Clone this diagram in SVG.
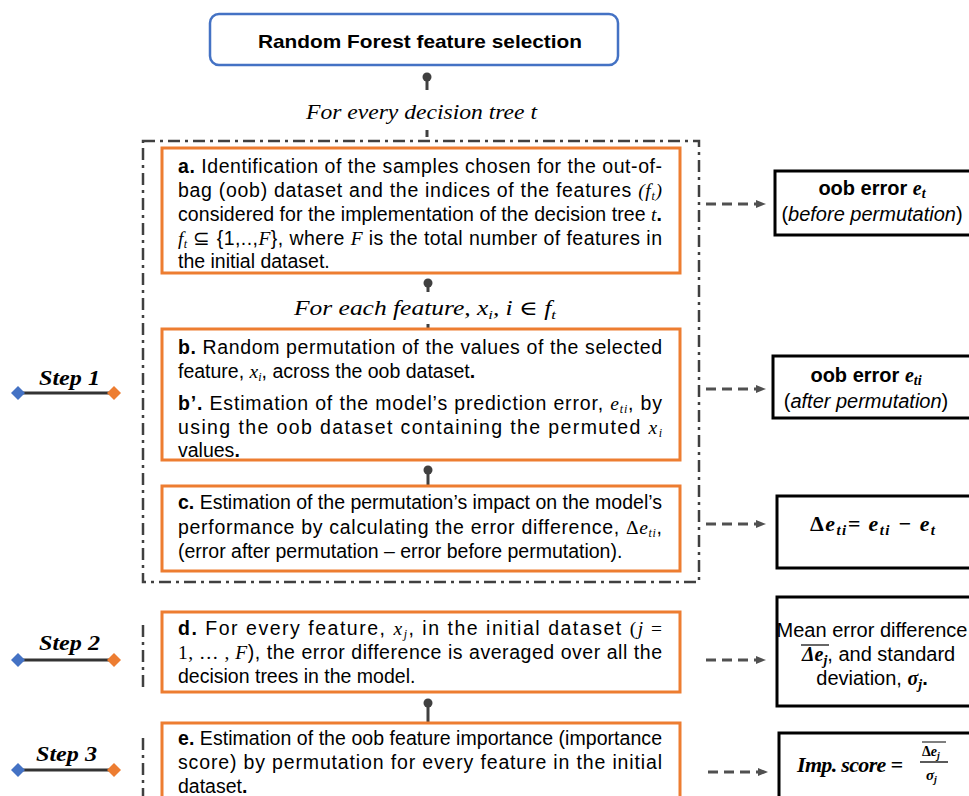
<svg xmlns="http://www.w3.org/2000/svg" width="969" height="796" viewBox="0 0 969 796">
<defs>
<style>
.t{font-family:"Liberation Sans",Arial,Helvetica,sans-serif;font-size:19.5px;fill:#000}
.tr{font-family:"Liberation Sans",Arial,Helvetica,sans-serif;font-size:20px;fill:#000}
.m{font-family:"Liberation Serif","DejaVu Serif",serif;font-style:italic}
.mu{font-family:"Liberation Serif","DejaVu Serif",serif;font-style:normal}
.mb{font-family:"Liberation Serif","DejaVu Serif",serif;font-style:italic;font-weight:bold}
.b{font-weight:bold}
.ob{fill:#fff;stroke:#ED7D31;stroke-width:3}
.bx{fill:#fff;stroke:#000;stroke-width:3}
.conn{stroke:#404040;stroke-width:3;fill:none}
.dot{fill:#404040}
.arr{stroke:#505050;stroke-width:3;stroke-dasharray:10 6;fill:none}
.frame{stroke:#404040;stroke-width:2.5;fill:none;stroke-dasharray:12 5 3 5}
.step{font-family:"Liberation Serif","DejaVu Serif",serif;font-style:italic;font-weight:bold;font-size:21px;fill:#000}
.lbl{font-family:"Liberation Serif","DejaVu Serif",serif;font-style:italic;font-size:20px;fill:#000}
</style>
<marker id="ah" markerWidth="10" markerHeight="8" refX="0" refY="4" orient="auto" markerUnits="userSpaceOnUse">
<path d="M0,0 L10,4 L0,8 Z" fill="#505050"/>
</marker>
</defs>

<g id="connectors">
<circle class="dot" cx="427" cy="77" r="4.5"/>
<line class="conn" x1="427" y1="77" x2="427" y2="90"/>
<line class="conn" x1="427" y1="130" x2="427" y2="137"/>
<circle class="dot" cx="428" cy="283" r="4.5"/>
<line class="conn" x1="428" y1="283" x2="428" y2="292"/>
<line class="conn" x1="428" y1="324" x2="428" y2="329"/>
<circle class="dot" cx="428" cy="470" r="4.5"/>
<line class="conn" x1="428" y1="470" x2="428" y2="486"/>
<circle class="dot" cx="428" cy="703" r="4.5"/>
<line class="conn" x1="428" y1="703" x2="428" y2="723"/>
<path class="frame" d="M143,141 H699 V582 H143 Z"/>
<line class="frame" x1="143" y1="625" x2="143" y2="692"/>
<line class="frame" x1="143" y1="738" x2="143" y2="796"/>
<line class="arr" x1="706" y1="204" x2="756" y2="204" marker-end="url(#ah)"/>
<line class="arr" x1="706" y1="389" x2="756" y2="389" marker-end="url(#ah)"/>
<line class="arr" x1="706" y1="524" x2="756" y2="524" marker-end="url(#ah)"/>
<line class="arr" x1="706" y1="660" x2="756" y2="660" marker-end="url(#ah)"/>
<line class="arr" x1="708" y1="772" x2="758" y2="772" marker-end="url(#ah)"/>
</g>

<g id="title">
<rect x="210" y="14" width="408" height="51" rx="9" fill="#fff" stroke="#4472C4" stroke-width="2.5"/>
<text x="420" y="48" text-anchor="middle" font-family="Liberation Sans, Arial, sans-serif" font-weight="bold" font-size="19" textLength="324" lengthAdjust="spacingAndGlyphs">Random Forest feature selection</text>
</g>

<g id="label-tree">
<text class="lbl" x="306" y="119" textLength="231" lengthAdjust="spacingAndGlyphs">For every decision tree t</text>
</g>
<g id="label-feature">
<text class="lbl" x="294" y="315" textLength="262" lengthAdjust="spacingAndGlyphs">For each feature, x<tspan font-size="13" dy="4">i</tspan><tspan dy="-4">, i ∈ f</tspan><tspan font-size="13" dy="4">t</tspan></text>
</g>

<g id="box-a">
<rect class="ob" x="162" y="148" width="518" height="125"/>
<text class="t" x="178" y="173" textLength="484" lengthAdjust="spacing"><tspan class="b">a.</tspan> Identification of the samples chosen for the out-of-</text>
<text class="t" x="178" y="197" textLength="484" lengthAdjust="spacing">bag (oob) dataset and the indices of the features <tspan class="m">(f</tspan><tspan class="m" font-size="12" dy="3">t</tspan><tspan class="m" dy="-3">)</tspan></text>
<text class="t" x="178" y="221" textLength="484" lengthAdjust="spacing">considered for the implementation of the decision tree <tspan class="m">t</tspan><tspan class="b">.</tspan></text>
<text class="t" x="178" y="245" textLength="484" lengthAdjust="spacing"><tspan class="m">f</tspan><tspan class="m" font-size="12" dy="3">t</tspan><tspan dy="-3"> ⊆ {1,..,</tspan><tspan class="m">F</tspan>}, where <tspan class="m">F</tspan> is the total number of features in</text>
<text class="t" x="178" y="268">the initial dataset.</text>
</g>

<g id="box-b">
<rect class="ob" x="162" y="329" width="518" height="131"/>
<text class="t" x="178" y="354" textLength="484" lengthAdjust="spacing"><tspan class="b">b.</tspan> Random permutation of the values of the selected</text>
<text class="t" x="178" y="378">feature, <tspan class="m">x</tspan><tspan class="m" font-size="12" dy="3">i</tspan><tspan dy="-3">, across the oob dataset</tspan><tspan class="b">.</tspan></text>
<text class="t" x="178" y="410" textLength="484" lengthAdjust="spacing"><tspan class="b">b’.</tspan> Estimation of the model’s prediction error, <tspan class="m">e</tspan><tspan class="m" font-size="12" dy="3">ti</tspan><tspan dy="-3">, by</tspan></text>
<text class="t" x="178" y="434" textLength="484" lengthAdjust="spacing">using the oob dataset containing the permuted <tspan class="m">x</tspan><tspan class="m" font-size="12" dy="3">i</tspan></text>
<text class="t" x="178" y="457">values<tspan class="b">.</tspan></text>
</g>

<g id="box-c">
<rect class="ob" x="162" y="486" width="518" height="85"/>
<text class="t" x="178" y="509" textLength="484" lengthAdjust="spacing"><tspan class="b">c.</tspan> Estimation of the permutation’s impact on the model’s</text>
<text class="t" x="178" y="534" textLength="484" lengthAdjust="spacing">performance by calculating the error difference, <tspan class="mu">Δ</tspan><tspan class="m">e</tspan><tspan class="m" font-size="12" dy="3">ti</tspan><tspan dy="-3">,</tspan></text>
<text class="t" x="178" y="558">(error after permutation – error before permutation).</text>
</g>

<g id="box-d">
<rect class="ob" x="162" y="612" width="518" height="80"/>
<text class="t" x="178" y="635" textLength="484" lengthAdjust="spacing"><tspan class="b">d.</tspan> For every feature, <tspan class="m">x</tspan><tspan class="m" font-size="12" dy="3">j</tspan><tspan dy="-3">, in the initial dataset </tspan><tspan class="mu">(</tspan><tspan class="m">j</tspan><tspan class="mu"> =</tspan></text>
<text class="t" x="178" y="659" textLength="484" lengthAdjust="spacing"><tspan class="mu">1, … , </tspan><tspan class="m">F</tspan>), the error difference is averaged over all the</text>
<text class="t" x="178" y="683">decision trees in the model.</text>
</g>

<g id="box-e">
<rect class="ob" x="162" y="723" width="518" height="80"/>
<text class="t" x="178" y="745" textLength="484" lengthAdjust="spacing"><tspan class="b">e.</tspan> Estimation of the oob feature importance (importance</text>
<text class="t" x="178" y="769" textLength="484" lengthAdjust="spacing">score) by permutation for every feature in the initial</text>
<text class="t" x="178" y="793">dataset<tspan class="b">.</tspan></text>
</g>

<g id="out-1">
<rect class="bx" x="775" y="171" width="200" height="64"/>
<text class="tr" x="872" y="195" text-anchor="middle"><tspan class="b">oob error </tspan><tspan class="mb">e</tspan><tspan class="mb" font-size="14" dy="3">t</tspan></text>
<text class="tr" x="872" y="221" text-anchor="middle">(<tspan font-style="italic">before permutation</tspan>)</text>
</g>

<g id="out-2">
<rect class="bx" x="773" y="356" width="200" height="62"/>
<text class="tr" x="866" y="382" text-anchor="middle"><tspan class="b">oob error </tspan><tspan class="mb">e</tspan><tspan class="mb" font-size="14" dy="3">ti</tspan></text>
<text class="tr" x="866" y="408" text-anchor="middle">(<tspan font-style="italic">after permutation</tspan>)</text>
</g>

<g id="out-3">
<rect class="bx" x="777" y="496" width="200" height="72"/>
<text class="mb" x="810" y="531" font-size="22" textLength="125" lengthAdjust="spacing"><tspan font-style="normal">Δ</tspan>e<tspan font-size="15" dy="4">ti</tspan><tspan dy="-4">=  e</tspan><tspan font-size="15" dy="4">ti</tspan><tspan dy="-4"> − e</tspan><tspan font-size="15" dy="4">t</tspan></text>
</g>

<g id="out-4">
<rect class="bx" x="777" y="597" width="200" height="109"/>
<text class="tr" x="872" y="637" text-anchor="middle">Mean error difference</text>
<line x1="801" y1="645" x2="829" y2="645" stroke="#000" stroke-width="1.2"/>
<text class="tr" x="802" y="661"><tspan class="mb" font-style="normal">Δ</tspan><tspan class="mb">e</tspan><tspan class="mb" font-size="14" dy="4">j</tspan><tspan dy="-4">, and standard</tspan></text>
<text class="tr" x="872" y="685" text-anchor="middle">deviation, <tspan class="mb">σ</tspan><tspan class="mb" font-size="14" dy="4">j</tspan><tspan class="b" dy="-4">.</tspan></text>
</g>

<g id="out-5">
<rect class="bx" x="779" y="733" width="200" height="70"/>
<text class="mb" x="797" y="772" font-size="22" textLength="106" lengthAdjust="spacing">Imp. score =</text>
<line x1="920" y1="762" x2="948" y2="762" stroke="#000" stroke-width="1.3"/>
<line x1="922" y1="742" x2="946" y2="742" stroke="#000" stroke-width="1"/>
<text class="mb" x="922" y="756" font-size="14"><tspan font-style="normal">Δ</tspan>e<tspan font-size="10" dy="3">j</tspan></text>
<text class="mb" x="926" y="780" font-size="15">σ<tspan font-size="10" dy="3">j</tspan></text>
</g>

<g id="step-1">
<line x1="18" y1="393" x2="114" y2="393" stroke="#333" stroke-width="3"/>
<path d="M18,386 L25,393 L18,400 L11,393 Z" fill="#4472C4"/>
<path d="M114,386 L121,393 L114,400 L107,393 Z" fill="#ED7D31"/>
<text class="step" x="39" y="385" textLength="61" lengthAdjust="spacingAndGlyphs">Step 1</text>
</g>
<g id="step-2">
<line x1="18" y1="660" x2="114" y2="660" stroke="#333" stroke-width="3"/>
<path d="M18,653 L25,660 L18,667 L11,660 Z" fill="#4472C4"/>
<path d="M114,653 L121,660 L114,667 L107,660 Z" fill="#ED7D31"/>
<text class="step" x="39" y="650" textLength="61" lengthAdjust="spacingAndGlyphs">Step 2</text>
</g>
<g id="step-3">
<line x1="18" y1="770" x2="114" y2="770" stroke="#333" stroke-width="3"/>
<path d="M18,763 L25,770 L18,777 L11,770 Z" fill="#4472C4"/>
<path d="M114,763 L121,770 L114,777 L107,770 Z" fill="#ED7D31"/>
<text class="step" x="36" y="761" textLength="61" lengthAdjust="spacingAndGlyphs">Step 3</text>
</g>
</svg>
